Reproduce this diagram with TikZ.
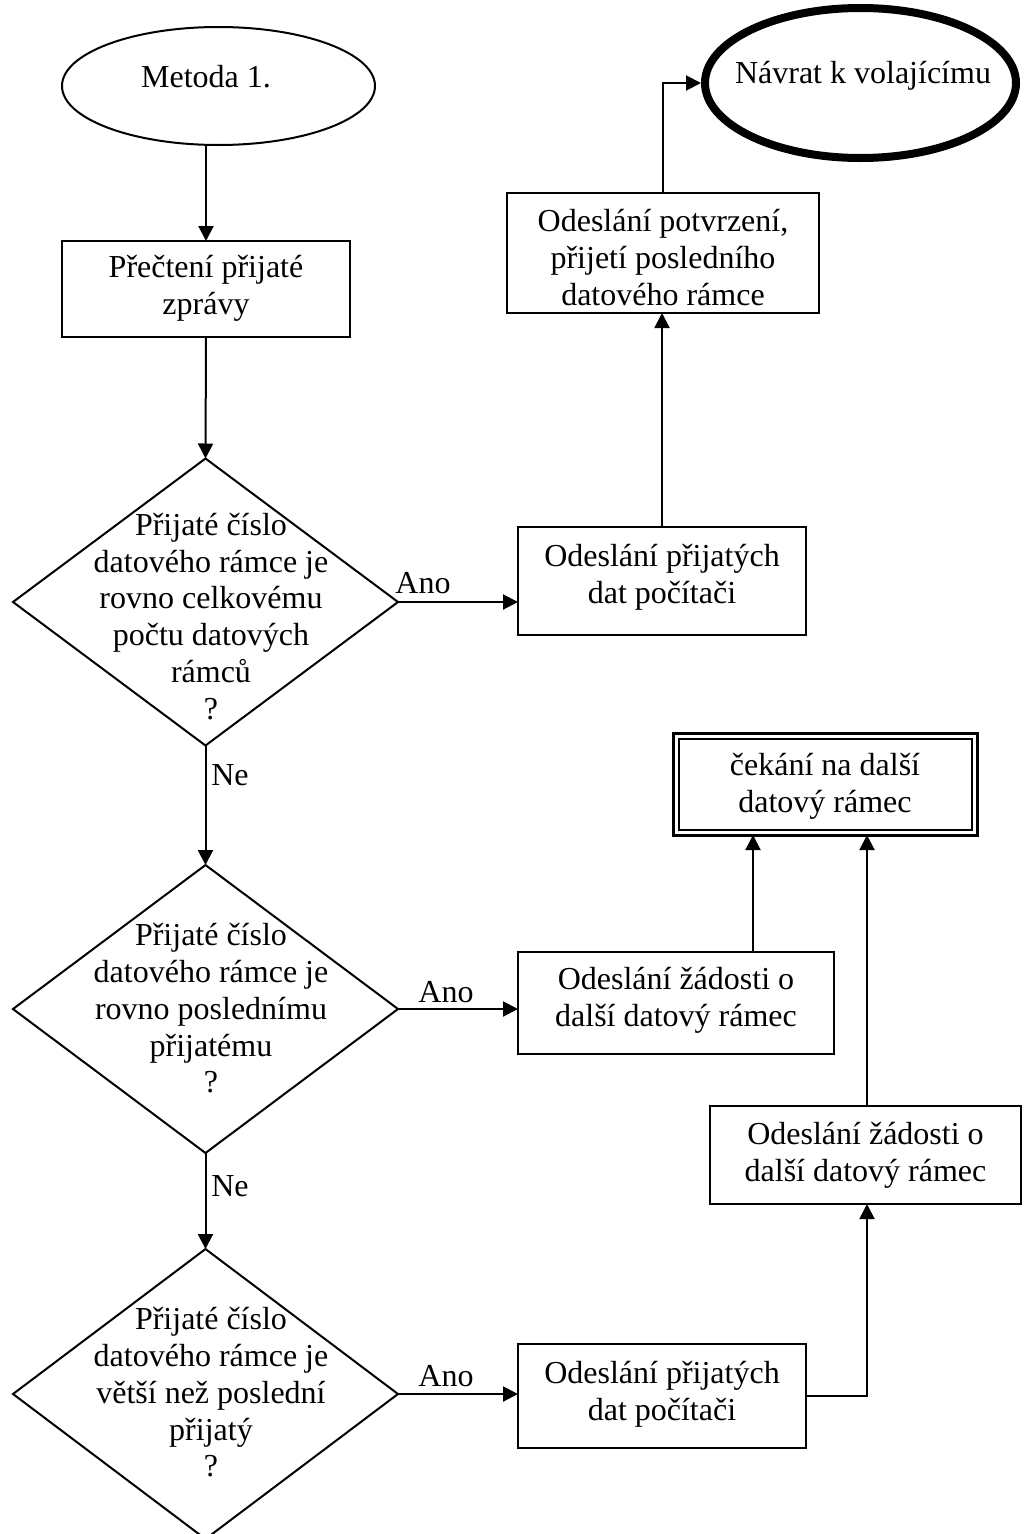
\documentclass[tikz,border=0pt]{standalone}
\usepackage{fontspec}
\setmainfont{Liberation Serif}
\usetikzlibrary{arrows.meta,shapes.geometric}
\begin{document}
\begin{tikzpicture}[x=1pt,y=-1pt,
  every node/.style={inner sep=0pt, outer sep=0pt},
  outline/.style={draw, line width=2pt},
  txt/.style={align=center, font=\fontsize{32}{36.8}\selectfont},
  arr/.style={line width=2pt, -{Triangle[width=15pt,length=15pt]}}]
\useasboundingbox (0,0) rectangle (1023,1534);

% terminators
\node[outline, ellipse, minimum width=313pt, minimum height=118pt] (start) at (218.5,86) {};
\node[txt] (starttxt) at (206,80) {\strut Metoda 1.};
\node[draw, line width=8pt, ellipse, minimum width=311pt, minimum height=150pt] (ret) at (860.5,83) {};
\node[txt] (rettxt) at (863,76) {\strut Návrat k volajícímu};

% left column
\node[outline, minimum width=288pt, minimum height=96pt] (read) at (206,289) {};
\node[txt] (readtxt) at (206,289) {\strut Přečtení přijaté\\\strut zprávy};

\node[outline, diamond, minimum width=385pt, minimum height=287pt] (q1) at (205.5,602) {};
\node[txt] (q1txt) at (211,620) {\strut Přijaté číslo\\\strut datového rámce je\\\strut rovno celkovému\\\strut počtu datových\\\strut rámců\\\strut ?};

\node[outline, diamond, minimum width=385pt, minimum height=288pt] (q2) at (205.5,1009) {};
\node[txt] (q2txt) at (211,1012) {\strut Přijaté číslo\\\strut datového rámce je\\\strut rovno poslednímu\\\strut přijatému\\\strut ?};

\node[outline, diamond, minimum width=385pt, minimum height=290pt] (q3) at (205.5,1394) {};
\node[txt] (q3txt) at (211,1396) {\strut Přijaté číslo\\\strut datového rámce je\\\strut větší než poslední\\\strut přijatý\\\strut ?};

% right column
\node[outline, minimum width=312pt, minimum height=120pt] (confirm) at (663,253) {};
\node[txt] (confirmtxt) at (663,261) {\strut Odeslání potvrzení,\\\strut přijetí posledního\\\strut datového rámce};

\node[outline, minimum width=288pt, minimum height=108pt] (sendA) at (662,581) {};
\node[txt] (sendAtxt) at (662,578) {\strut Odeslání přijatých\\\strut dat počítači};

\node[draw, line width=3pt, minimum width=304pt, minimum height=102pt] (wait) at (825,784) {};
\draw[line width=2pt] ([shift={(5.5,5.5)}]wait.north west) rectangle ([shift={(-5.5,-5.5)}]wait.south east);
\node[txt] (waittxt) at (825,787) {\strut čekání na další\\\strut datový rámec};

\node[outline, minimum width=316pt, minimum height=102pt] (reqA) at (676,1003) {};
\node[txt] (reqAtxt) at (676,1001) {\strut Odeslání žádosti o\\\strut další datový rámec};

\node[outline, minimum width=311pt, minimum height=98pt] (reqB) at (865.5,1155) {};
\node[txt] (reqBtxt) at (865.5,1156) {\strut Odeslání žádosti o\\\strut další datový rámec};

\node[outline, minimum width=288pt, minimum height=104pt] (sendB) at (662,1396) {};
\node[txt] (sendBtxt) at (662,1395) {\strut Odeslání přijatých\\\strut dat počítači};

% branch labels
\node[txt] (yes1) at (423,583) {Ano};
\node[txt] (yes2) at (446,992) {Ano};
\node[txt] (yes3) at (446,1376) {Ano};
\node[txt] (no1) at (230,775) {Ne};
\node[txt] (no2) at (230,1186) {Ne};

% connectors
\coordinate (col1) at (753,0);
\coordinate (col2) at (867,0);
\draw[arr] (start.south -| read.north) -- (read.north);
\draw[arr] (read.south) -- (q1.north);
\draw[arr] (q1.east) -- (q1.east -| sendA.west);
\draw[arr] (sendA.north) -- (sendA.north |- confirm.south);
\draw[arr] (confirm.north) |- ([xshift=-4pt]ret.west);
\draw[arr] (q1.south) -- (q2.north);
\draw[arr] (q2.east) -- (q2.east -| reqA.west);
\draw[arr] (reqA.north -| col1) -- (wait.south -| col1);
\draw[arr] (reqB.north -| col2) -- (wait.south -| col2);
\draw[arr] (q2.south) -- (q3.north);
\draw[arr] (q3.east) -- (q3.east -| sendB.west);
\draw[arr] (sendB.east) -| (reqB.south -| col2);
\end{tikzpicture}
\end{document}
